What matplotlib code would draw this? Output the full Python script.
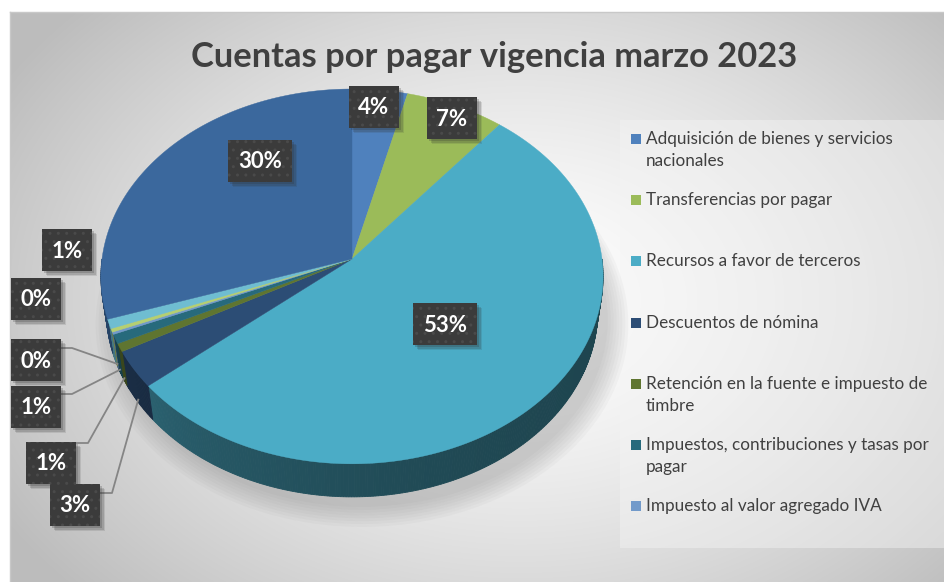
import textwrap
import numpy as np
import matplotlib
matplotlib.use("Agg")
import matplotlib.pyplot as plt
import matplotlib.colors as mcolors
from matplotlib.patches import Polygon, Rectangle

# data
legend_names = [
    "Adquisición de bienes y servicios nacionales",
    "Transferencias por pagar",
    "Recursos a favor de terceros",
    "Descuentos de nómina",
    "Retención en la fuente e impuesto de timbre",
    "Impuestos, contribuciones y tasas por pagar",
    "Impuesto al valor agregado IVA",
]
values = [3.9, 7.0, 53.0, 3.2, 0.7, 0.8, 0.2, 0.3, 0.8, 30.1]
colors = ["#4F81BD", "#9BBB59", "#4BACC6", "#2C4D75", "#5F7530",
          "#276A7C", "#729ACA", "#B5CF72", "#6FBDD1", "#3B689D"]
title = "Cuentas por pagar vigencia marzo 2023"

# layout of the value labels (pixel centres) and leader line starts
label_xy = [(374, 107), (452, 118), (445, 324), (75, 505), (51, 463),
            (36, 407), (36, 360), (36, 299), (67, 250), (260, 161)]
leader_start = {3: (100, 493), 4: (76, 443), 5: (60, 394), 6: (60, 348)}

W, Hpx = 945, 582
CX, CY, S = 352, 259, 250
TILT = np.radians(48)
DIST = 7.2
THICK = 0.21


def proj(phi, r=1.0, z=0.0):
    X = r * np.sin(phi)
    Y = r * np.cos(phi)
    up = Y * np.sin(TILT) + z * np.cos(TILT)
    depth = Y * np.cos(TILT) - z * np.sin(TILT)
    f = DIST / (DIST + depth)
    return CX + S * X * f, CY - S * up * f


def shade(c, k):
    r, g, b = mcolors.to_rgb(c)
    return (r * k, g * k, b * k)


fig = plt.figure(figsize=(W / 100, Hpx / 100), dpi=100)
ax = fig.add_axes([0, 0, 1, 1])
ax.set_xlim(0, W)
ax.set_ylim(Hpx, 0)
ax.axis("off")

# background gradient
yy, xx = np.mgrid[0:Hpx, 0:W]
d = np.sqrt(((xx - 520) / 600.0) ** 2 + ((yy - 300) / 430.0) ** 2)
v = 1.0 - 0.26 * np.clip(d, 0, 1) ** 1.4
bg = np.dstack([v, v, v])
bg[:12, :, :] = 1.0
bg[:, :10, :] = 1.0
ax.imshow(bg, extent=[0, W, Hpx, 0], zorder=0, aspect="auto")
ax.plot([10, W, W], [12, 12, Hpx], color="#c8c8c8", lw=1, zorder=1)
ax.plot([10, 10], [12, Hpx], color="#c8c8c8", lw=1, zorder=1)

# legend panel
ax.add_patch(Rectangle((620, 120), W - 620, 428, facecolor="#f4f4f4",
                       alpha=0.45, edgecolor="none", zorder=1))

frac = np.array(values) / sum(values)
edges = np.concatenate([[0], np.cumsum(frac)]) * 2 * np.pi

# soft shadow under the pie
t = np.linspace(0, 2 * np.pi, 200)
bx, by = proj(t, 1.0, -THICK)
for k in range(8):
    sc = 1.0 + 0.012 * k
    sx = CX + (bx - CX) * sc + 10
    sy = CY + (by - CY) * sc + 10
    ax.add_patch(Polygon(np.column_stack([sx, sy]), closed=True,
                         facecolor="#808080", alpha=0.05, edgecolor="none", zorder=2))

# rim (outer side) on the front half
lo, hi = np.pi / 2, 3 * np.pi / 2
for i, c in enumerate(colors):
    a0, a1 = max(edges[i], lo), min(edges[i + 1], hi)
    if a1 <= a0:
        continue
    n = max(2, int((a1 - a0) / 0.01))
    ph = np.linspace(a0, a1, n + 1)
    for j in range(n):
        p = ph[j:j + 2]
        k = 0.40 + 0.30 * ((p.mean() - lo) / np.pi) ** 2.5
        tx, ty = proj(p, 1.0, 0.0)
        ux, uy = proj(p[::-1], 1.0, -THICK)
        pts = np.column_stack([np.concatenate([tx, ux]), np.concatenate([ty, uy])])
        col = shade(c, k)
        ax.add_patch(Polygon(pts, closed=True, facecolor=col, edgecolor=col,
                             lw=0.6, zorder=3))

# top faces
for i, c in enumerate(colors):
    ph = np.linspace(edges[i], edges[i + 1], max(3, int((edges[i + 1] - edges[i]) / 0.01)))
    ax_, ay_ = proj(ph)
    pts = np.column_stack([np.concatenate([[CX], ax_]), np.concatenate([[CY], ay_])])
    ax.add_patch(Polygon(pts, closed=True, facecolor=c, edgecolor=c, lw=0.3, zorder=4))

# leader lines
for i, (sx, sy) in leader_start.items():
    mid = (edges[i] + edges[i + 1]) / 2
    ex, ey = proj(mid, 1.0, -THICK * 0.9)
    ax.plot([sx, sx + 12, ex], [sy, sy, ey], color="#858585", lw=1.3, zorder=5)

# value labels
for i, (lx, ly) in enumerate(label_xy):
    txt = f"{round(values[i])}%"
    bw = 50 if len(txt) == 2 else 64
    bh = 42
    for k, a in [(5, 0.12), (3.5, 0.18), (2, 0.22)]:
        ax.add_patch(Rectangle((lx - bw / 2 + k, ly - bh / 2 + k), bw, bh,
                               facecolor="#303030", alpha=a, edgecolor="none", zorder=6))
    ax.add_patch(Rectangle((lx - bw / 2, ly - bh / 2), bw, bh, facecolor="#3b3b3b",
                           edgecolor="#4a4a4a", hatch="..", lw=0, zorder=7))
    ax.text(lx, ly + 1, txt, color="white", fontsize=16, fontweight="bold",
            family="Lato", ha="center", va="center", zorder=8)

# legend
for i, name in enumerate(legend_names):
    y = 139 + 61.2 * i
    ax.add_patch(Rectangle((631, y - 5), 10, 10, facecolor=colors[i],
                           edgecolor="none", zorder=7))
    for k, line in enumerate(textwrap.wrap(name, 37)):
        ax.text(646, y + 22 * k, line, color="#404040", fontsize=12.3,
                family="Lato", ha="left", va="center", zorder=7)

ax.text(494, 57, title, color="#404040", fontsize=24.8, fontweight="bold",
        family="Lato", ha="center", va="center", zorder=7)

fig.savefig("out.png", dpi=100)
